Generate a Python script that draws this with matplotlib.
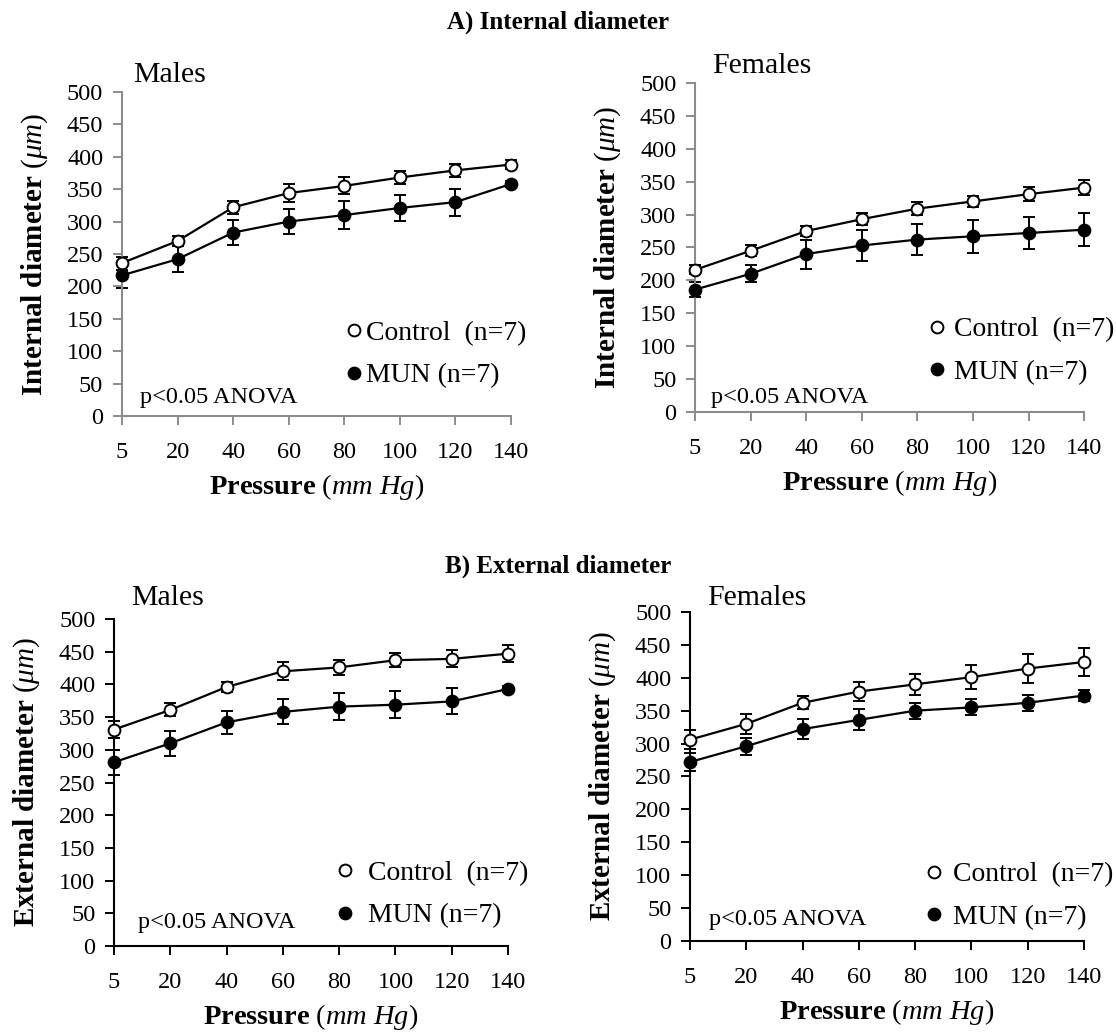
import matplotlib
matplotlib.use("Agg")
import matplotlib.pyplot as plt
from matplotlib.lines import Line2D
import numpy as np

plt.rcParams["font.family"] = ["Liberation Serif", "DejaVu Serif"]
plt.rcParams["mathtext.fontset"] = "custom"
plt.rcParams["mathtext.rm"] = "Liberation Serif"
plt.rcParams["mathtext.it"] = "Liberation Serif:italic"
plt.rcParams["mathtext.bf"] = "Liberation Serif:bold"

pressure_labels = ["5", "20", "40", "60", "80", "100", "120", "140"]

# Internal diameter (um), mean and SEM
int_male_ctrl = [236, 270, 322, 344, 355, 368, 379, 388]
int_male_ctrl_err = [10, 8, 10, 14, 13, 10, 10, 7]
int_male_mun = [217, 242, 283, 300, 310, 321, 330, 358]
int_male_mun_err = [19, 20, 19, 19, 21, 20, 21, 4]

int_female_ctrl = [216, 245, 275, 293, 309, 320, 331, 341]
int_female_ctrl_err = [7, 8, 8, 9, 10, 8, 11, 11]
int_female_mun = [186, 210, 240, 253, 262, 267, 272, 277]
int_female_mun_err = [11, 13, 22, 24, 24, 25, 25, 25]

# External diameter (um), mean and SEM
ext_male_ctrl = [331, 361, 396, 420, 426, 437, 439, 447]
ext_male_ctrl_err = [13, 10, 8, 14, 12, 11, 13, 13]
ext_male_mun = [281, 310, 342, 358, 366, 369, 374, 393]
ext_male_mun_err = [19, 19, 18, 19, 21, 21, 20, 4]

ext_female_ctrl = [306, 330, 362, 379, 390, 401, 414, 424]
ext_female_ctrl_err = [15, 15, 10, 14, 16, 18, 22, 22]
ext_female_mun = [272, 296, 322, 336, 350, 355, 362, 373]
ext_female_mun_err = [14, 13, 15, 16, 12, 12, 12, 8]

group_labels = ["Control  (n=7)", "MUN (n=7)"]


def draw_panel(ax, ctrl, ctrl_err, mun, mun_err, ylabel, title, axis_color,
               title_xy, stat_xy, legend_xy, text_pad):
    x = np.arange(len(pressure_labels))

    for mean, err, face in ((ctrl, ctrl_err, "white"), (mun, mun_err, "black")):
        ax.errorbar(x, mean, yerr=err, fmt="none", ecolor="black",
                    elinewidth=1.4, capsize=4, capthick=1.4, clip_on=False,
                    zorder=2)
        ax.plot(x, mean, color="black", linewidth=1.6, marker="o",
                markersize=8.5, markerfacecolor=face, markeredgecolor="black",
                markeredgewidth=1.4, clip_on=False, zorder=3)

    ax.set_xlim(0, len(pressure_labels) - 1)
    ax.set_ylim(0, 500)
    ax.set_xticks(x)
    ax.set_xticklabels(pressure_labels)
    ax.set_yticks(np.arange(0, 501, 50))

    for side in ("top", "right"):
        ax.spines[side].set_visible(False)
    for side in ("left", "bottom"):
        ax.spines[side].set_color(axis_color)
        ax.spines[side].set_linewidth(1.5)
    ax.tick_params(axis="both", direction="out", length=6.5, width=1.4,
                   color=axis_color, labelsize=17.5)
    ax.tick_params(axis="x", pad=12)
    ax.tick_params(axis="y", pad=7)

    ax.set_ylabel(ylabel, fontsize=21, labelpad=12)
    ax.set_xlabel(r"$\mathbf{Pressure}\ \mathit{(mm\ Hg)}$", fontsize=20.5,
                  labelpad=7)

    ax.text(title_xy[0], title_xy[1], title, transform=ax.transAxes,
            fontsize=21.5, ha="left", va="baseline")
    ax.text(stat_xy[0], stat_xy[1], "p<0.05 ANOVA", transform=ax.transAxes,
            fontsize=17.5, ha="left", va="center")

    handles = [
        Line2D([], [], linestyle="none", marker="o", markersize=8.5,
               markerfacecolor="white", markeredgecolor="black",
               markeredgewidth=1.4),
        Line2D([], [], linestyle="none", marker="o", markersize=8.5,
               markerfacecolor="black", markeredgecolor="black",
               markeredgewidth=1.4),
    ]
    ax.legend(handles, group_labels, loc="center left",
              bbox_to_anchor=legend_xy, frameon=False, fontsize=20,
              borderpad=0, borderaxespad=0, handlelength=0.8,
              handletextpad=text_pad, labelspacing=0.62)


fig = plt.figure(figsize=(11.16, 10.32), dpi=100)

ax_a1 = fig.add_axes([0.1093, 0.5969, 0.3486, 0.3140])
ax_a2 = fig.add_axes([0.6228, 0.6008, 0.3486, 0.3188])
ax_b1 = fig.add_axes([0.1022, 0.0833, 0.3530, 0.3169])
ax_b2 = fig.add_axes([0.6183, 0.0882, 0.3530, 0.3188])

int_label = r"$\mathbf{Internal\ diameter}\ \mathit{(\mu m)}$"
ext_label = r"$\mathbf{External\ diameter}\ \mathit{(\mu m)}$"

draw_panel(ax_a1, int_male_ctrl, int_male_ctrl_err, int_male_mun,
           int_male_mun_err, int_label, "Males", "#8c8c8c",
           (0.028, 1.03), (0.046, 0.056), (0.567, 0.19), 0.05)
draw_panel(ax_a2, int_female_ctrl, int_female_ctrl_err, int_female_mun,
           int_female_mun_err, int_label, "Females", "#8c8c8c",
           (0.044, 1.03), (0.040, 0.043), (0.593, 0.185), 0.2)
draw_panel(ax_b1, ext_male_ctrl, ext_male_ctrl_err, ext_male_mun,
           ext_male_mun_err, ext_label, "Males", "black",
           (0.043, 1.043), (0.060, 0.073), (0.557, 0.158), 0.45)
draw_panel(ax_b2, ext_female_ctrl, ext_female_ctrl_err, ext_female_mun,
           ext_female_mun_err, ext_label, "Females", "black",
           (0.043, 1.02), (0.048, 0.064), (0.590, 0.137), 0.3)

fig.text(0.5, 1 - 22 / 1032, "A) Internal diameter", fontsize=18,
         fontweight="bold", ha="center", va="center")
fig.text(0.5, 1 - 566 / 1032, "B) External diameter", fontsize=18,
         fontweight="bold", ha="center", va="center")

fig.savefig("out.png", dpi=100, facecolor="white")
